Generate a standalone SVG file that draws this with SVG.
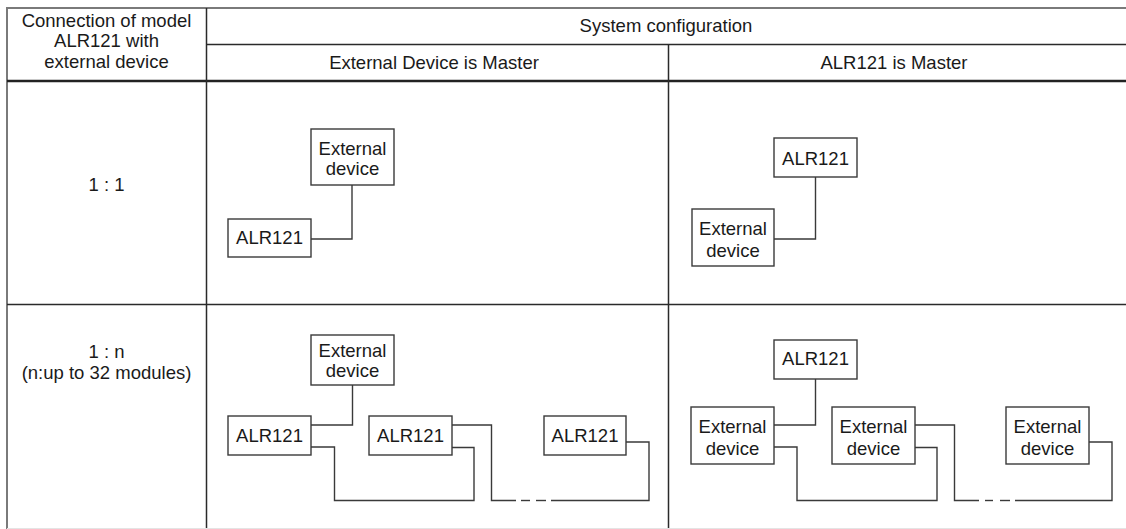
<svg xmlns="http://www.w3.org/2000/svg" width="1126" height="529" viewBox="0 0 1126 529">
<style>
text{font-family:"Liberation Sans",Arial,sans-serif;font-size:18.5px;fill:#1a1a1a;text-anchor:middle}
.box{fill:#fff;stroke:#3a3a3a;stroke-width:1.4}
.wire{fill:none;stroke:#3a3a3a;stroke-width:1.4}
.grid{stroke:#2a2a2a;stroke-width:1.5;fill:none}
</style>
<rect x="0" y="0" width="1126" height="529" fill="#fff"/>
<g id="table">
<line x1="7" y1="8" x2="1126" y2="8" stroke="#7a7a7a" stroke-width="2"/>
<line x1="7" y1="7" x2="7" y2="529" stroke="#7a7a7a" stroke-width="2"/>
<line class="grid" x1="206" y1="44.5" x2="1126" y2="44.5"/>
<line x1="7" y1="81" x2="1126" y2="81" stroke="#222" stroke-width="2.6"/>
<line class="grid" x1="7" y1="304.5" x2="1126" y2="304.5"/>
<line class="grid" x1="206.5" y1="8" x2="206.5" y2="529"/>
<line class="grid" x1="668.5" y1="44.5" x2="668.5" y2="529"/>
<line x1="7" y1="528.5" x2="1126" y2="528.5" stroke="#e4e4e4" stroke-width="1"/>
<text x="106.5" y="27">Connection of model</text>
<text x="106.5" y="47">ALR121 with</text>
<text x="106.5" y="68">external device</text>
<text x="666" y="32">System configuration</text>
<text x="434" y="69">External Device is Master</text>
<text x="894" y="69">ALR121 is Master</text>
<text x="106.5" y="191">1 : 1</text>
<text x="106.5" y="358">1 : n</text>
<text x="106.5" y="379">(n:up to 32 modules)</text>
</g>
<g id="connectors">
<polyline class="wire" points="311,239 352,239 352,185"/>
<polyline class="wire" points="774,239 815.5,239 815.5,177"/>
<polyline class="wire" points="311,425 352.5,425 352.5,385"/>
<polyline class="wire" points="311,447 334.5,447 334.5,500.5 474,500.5 474,447.5 452,447.5"/>
<polyline class="wire" points="452,425 491.5,425 491.5,500.5 516,500.5"/>
<line class="wire" x1="521" y1="500.5" x2="530" y2="500.5"/>
<line class="wire" x1="536" y1="500.5" x2="546" y2="500.5"/>
<polyline class="wire" points="551,500.5 649,500.5 649,442 626,442"/>
<polyline class="wire" points="774,425 815.5,425 815.5,379"/>
<polyline class="wire" points="774,447 797,447 797,500.5 937,500.5 937,447.5 915,447.5"/>
<polyline class="wire" points="915,425 954.5,425 954.5,500.5 979,500.5"/>
<line class="wire" x1="985" y1="500.5" x2="993" y2="500.5"/>
<line class="wire" x1="1000" y1="500.5" x2="1010" y2="500.5"/>
<polyline class="wire" points="1015,500.5 1112,500.5 1112,442 1089,442"/>
</g>
<g id="r1-ext">
<rect class="box" x="311" y="129" width="83" height="56"/>
<text x="352.5" y="155">External</text>
<text x="352.5" y="175">device</text>
</g>
<g id="r1-alr">
<rect class="box" x="228" y="219" width="83" height="38"/>
<text x="269.5" y="243.5">ALR121</text>
</g>
<g id="r1m-alr">
<rect class="box" x="774" y="138" width="83" height="39"/>
<text x="815.5" y="164.5">ALR121</text>
</g>
<g id="r1m-ext">
<rect class="box" x="692" y="209" width="82" height="57"/>
<text x="733" y="235">External</text>
<text x="733" y="256.5">device</text>
</g>
<g id="r2-ext">
<rect class="box" x="311" y="335" width="83" height="50"/>
<text x="352.5" y="357">External</text>
<text x="352.5" y="377">device</text>
</g>
<g id="r2-alr1">
<rect class="box" x="228" y="416" width="83" height="39"/>
<text x="269.5" y="441.5">ALR121</text>
</g>
<g id="r2-alr2">
<rect class="box" x="369" y="416" width="83" height="39"/>
<text x="410.5" y="441.5">ALR121</text>
</g>
<g id="r2-alr3">
<rect class="box" x="544" y="416" width="82" height="39"/>
<text x="585" y="441.5">ALR121</text>
</g>
<g id="r2m-alr">
<rect class="box" x="774" y="340" width="83" height="39"/>
<text x="815.5" y="365">ALR121</text>
</g>
<g id="r2m-ext1">
<rect class="box" x="691" y="407" width="83" height="57"/>
<text x="732.5" y="433">External</text>
<text x="732.5" y="455">device</text>
</g>
<g id="r2m-ext2">
<rect class="box" x="832" y="407" width="83" height="57"/>
<text x="873.5" y="433">External</text>
<text x="873.5" y="455">device</text>
</g>
<g id="r2m-ext3">
<rect class="box" x="1006" y="407" width="83" height="57"/>
<text x="1047.5" y="433">External</text>
<text x="1047.5" y="455">device</text>
</g>
</svg>
